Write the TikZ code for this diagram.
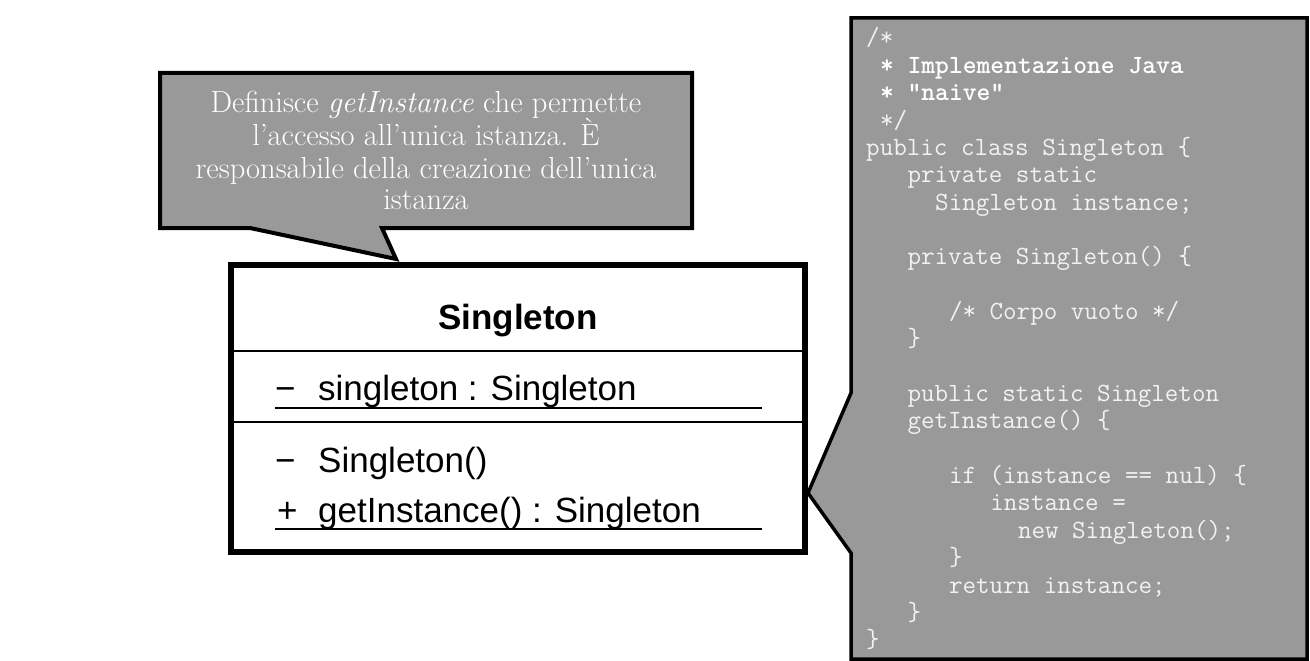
\documentclass[tikz,border=0pt]{standalone}
\usepackage{fontspec}
\newfontfamily\umlfont{Liberation Sans}
\definecolor{boxgray}{HTML}{999999}
\definecolor{codewhite}{HTML}{F2F2F2}
\tikzset{
  calloutshape/.style={draw=black, fill=boxgray, line join=miter},
  notetxt/.style={inner sep=0pt, anchor=base, text=white, font=\fontsize{30.5}{33}\selectfont},
  umltxt/.style={inner sep=0pt, anchor=base west, font=\umlfont\fontsize{35}{40}\selectfont},
  umltitle/.style={inner sep=0pt, anchor=base, font=\umlfont\bfseries\fontsize{35}{40}\selectfont},
  codetxt/.style={inner sep=0pt, anchor=base west, text=codewhite, font=\ttfamily\fontsize{26.3}{27}\selectfont},
  codebold/.style={codetxt, text=white, font=\ttfamily\bfseries\fontsize{26.3}{27}\selectfont},
  divider/.style={line width=2pt},
  uline/.style={line width=1.6pt}
}
\newcommand\cdln[4][codetxt]{\node[#1] (code#2) at (866+#3*13.8, 46+#2*27.35) {#4};}
\begin{document}
\begin{tikzpicture}[x=1pt,y=-1pt]
\useasboundingbox[fill=white] (0,0) rectangle (1310,661);

% callout with the note
\draw[calloutshape, line width=4pt] (160,73) -- (692,73) -- (692,228) -- (382,228)
  -- (396,259) coordinate (notetip) -- (250,228) -- (160,228) -- cycle;
\node[notetxt] (note1) at (426,112) {Definisce \textit{getInstance} che permette};
\node[notetxt] (note2) at (426,145) {l’accesso all’unica istanza. È};
\node[notetxt] (note3) at (426,178) {responsabile della creazione dell’unica};
\node[notetxt] (note4) at (426,209) {istanza};

% code callout
\draw[calloutshape, line width=3.5pt] (851,18) -- (1307,18) -- (1307,659) -- (851,659)
  -- (851,553) -- (808,493) coordinate (codetip) -- (851,393) -- cycle;
\cdln{0}{0}{/*}
\cdln[codebold]{1}{1}{* Implementazione Java}
\cdln[codebold]{2}{1}{* "naive"}
\cdln{3}{1}{*/}
\cdln{4}{0}{public class Singleton \{}
\cdln{5}{3}{private static}
\cdln{6}{5}{Singleton instance;}
\cdln{8}{3}{private Singleton() \{}
\cdln{10}{6}{/* Corpo vuoto */}
\cdln{11}{3}{\}}
\cdln{13}{3}{public static Singleton}
\cdln{14}{3}{getInstance() \{}
\cdln{16}{6}{if (instance == nul) \{}
\cdln{17}{9}{instance =}
\cdln{18}{11}{new Singleton();}
\cdln{19}{6}{\}}
\cdln{20}{6}{return instance;}
\cdln{21}{3}{\}}
\cdln{22}{0}{\}}

% UML class
\draw[line width=6pt, fill=white] (231,265) rectangle (805,552);
\draw[divider] (231,351) -- (805,351);
\draw[divider] (231,422) -- (805,422);
\node[umltitle] (title) at (518,329) {Singleton};
\node[umltxt] (m1) at (275,400) {−};
\node[umltxt] (a1) at (318,400) {singleton : Singleton};
\node[umltxt] (m2) at (275,472) {−};
\node[umltxt] (op1) at (318,472) {Singleton()};
\node[umltxt] (m3) at (277,522) {+};
\node[umltxt] (op2) at (318,522) {getInstance() : Singleton};
\draw[uline] (275,408) -- (762,408);
\draw[uline] (275,529) -- (762,529);
\end{tikzpicture}
\end{document}
